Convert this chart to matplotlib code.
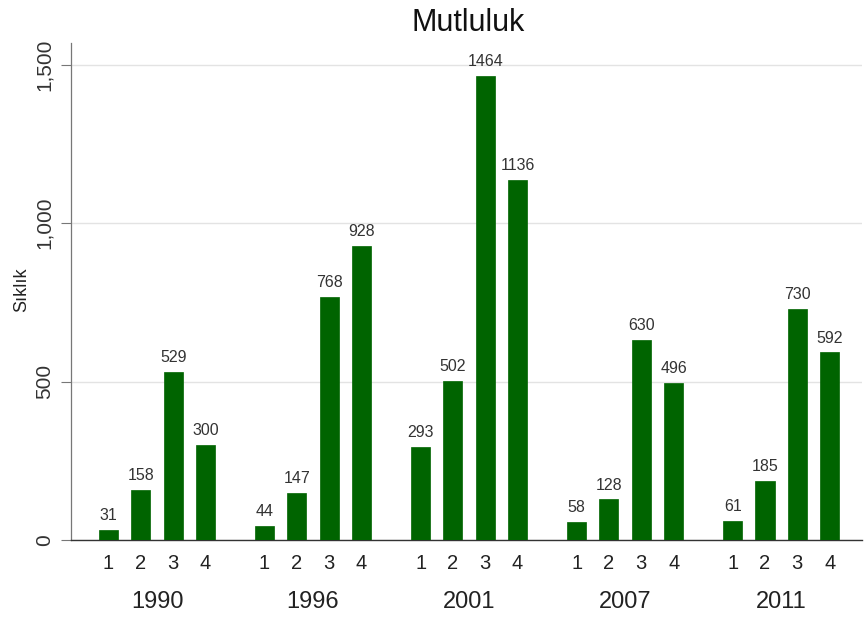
import matplotlib
matplotlib.use("Agg")
import matplotlib.pyplot as plt
from matplotlib.transforms import blended_transform_factory
from matplotlib.ticker import FuncFormatter

years = ["1990", "1996", "2001", "2007", "2011"]
categories = ["1", "2", "3", "4"]
values = {
    "1990": [31, 158, 529, 300],
    "1996": [44, 147, 768, 928],
    "2001": [293, 502, 1464, 1136],
    "2007": [58, 128, 630, 496],
    "2011": [61, 185, 730, 592],
}
title = "Mutluluk"
ylabel = "Sıklık"
yticks = [0, 500, 1000, 1500]

plt.rcParams['font.family'] = ['Liberation Sans', 'DejaVu Sans']

fig = plt.figure(figsize=(8.64, 6.19), dpi=100)
ax = fig.add_axes([71/864, 1-540/619, (862-71)/864, (540-43)/619])

group_step = 4.825
bar_w = 0.59
green = '#006400'

xs, labels = [], []
for g, yr in enumerate(years):
    for i, v in enumerate(values[yr]):
        x = g * group_step + i
        xs.append(x)
        labels.append(categories[i])
        ax.bar(x, v, width=bar_w, color=green, edgecolor=green, linewidth=0.5, zorder=3)
        ax.annotate(str(v), (x, v), xytext=(0, 5), textcoords='offset points',
                    ha='center', va='bottom', fontsize=11.5, color='#333333')

ax.set_xlim(-1.16, 23.3)
ax.set_ylim(0, 1569)

ax.set_yticks(yticks)
ax.yaxis.set_major_formatter(FuncFormatter(lambda v, p: f"{int(v):,}"))
for t in ax.get_yticklabels():
    t.set_rotation(90)
    t.set_va('center')
ax.tick_params(axis='y', length=7, width=0.8, color='#777777', labelsize=15,
               labelcolor='#333333', pad=5)
ax.set_xticks(xs)
ax.set_xticklabels(labels)
ax.tick_params(axis='x', length=0, labelsize=14.5, labelcolor='#222222', pad=10)

ax.grid(axis='y', color='#e3e3e3', linewidth=1, zorder=0)
ax.set_axisbelow(True)
for s in ['top', 'right']:
    ax.spines[s].set_visible(False)
ax.spines['left'].set_color('#777777')
ax.spines['left'].set_linewidth(0.9)
ax.spines['bottom'].set_color('#333333')
ax.spines['bottom'].set_linewidth(1.0)

trans = blended_transform_factory(ax.transData, fig.transFigure)
for g, yr in enumerate(years):
    cx = g * group_step + 1.5
    ax.text(cx, 1 - 602/619, yr, transform=trans, ha='center', va='center',
            fontsize=17, color='#222222')

fig.text(22/864, 1 - 290/619, ylabel, rotation=90, ha='center', va='center',
         fontsize=13, color='#222222')
fig.text(468/864, 1 - 23/619, title, ha='center', va='center', fontsize=22,
         color='#111111')

fig.savefig("out.png", dpi=100)
